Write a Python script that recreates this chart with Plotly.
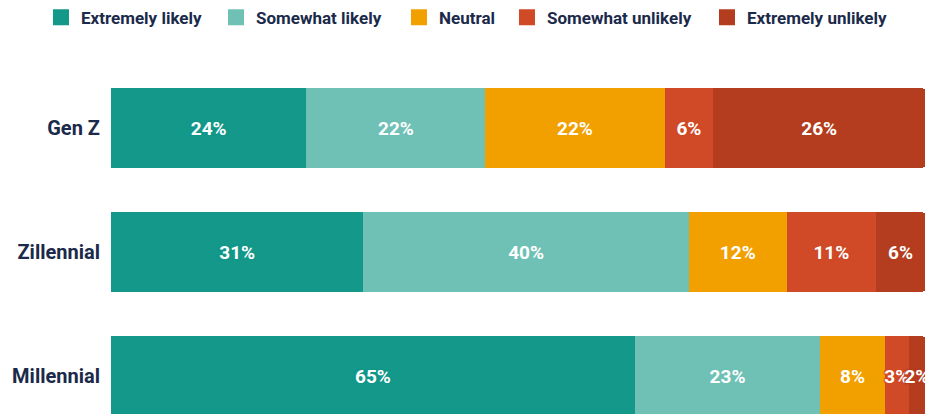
import plotly.graph_objects as go

# Survey responses by generation (percent of respondents)
generations = ["Gen Z", "Zillennial", "Millennial"]
responses = ["Extremely likely", "Somewhat likely", "Neutral",
             "Somewhat unlikely", "Extremely unlikely"]
extremely_likely = [24, 31, 65]
somewhat_likely = [22, 40, 23]
neutral = [22, 12, 8]
somewhat_unlikely = [6, 11, 3]
extremely_unlikely = [26, 6, 2]

series = [extremely_likely, somewhat_likely, neutral,
          somewhat_unlikely, extremely_unlikely]
colors = ["#13988a", "#6fc1b6", "#f2a000", "#d04a27", "#b53d1f"]
# fixed entry widths so the legend items are evenly laid out
legend_widths = [130, 138, 63, 155, 150]

NAVY = "#1b2a4a"
FONT = "Roboto"

fig = go.Figure()

for name, values, color in zip(responses, series, colors):
    fig.add_trace(go.Bar(
        y=generations,
        x=values,
        orientation="h",
        name=name,
        marker=dict(color=color, line=dict(width=0)),
        text=[f"{v}%" for v in values],
        textposition="inside",
        insidetextanchor="middle",
        textangle=0,
        textfont=dict(family=FONT, size=19, color="white", weight=700,
                      shadow=f"1px 1px 1px {color}, -1px -1px 1px {color}, "
                             f"1px -1px 1px {color}, -1px 1px 1px {color}"),
        hoverinfo="skip",
        showlegend=False,
    ))

# Legend entries drawn as larger square swatches
for name, color, lw in zip(responses, colors, legend_widths):
    fig.add_trace(go.Scatter(
        x=[None], y=[None],
        mode="markers",
        name=name,
        legendwidth=lw,
        marker=dict(symbol="square", size=16, color=color, line=dict(width=0)),
        showlegend=True,
    ))

fig.update_layout(
    width=942,
    height=470,
    margin=dict(l=111, r=17, t=66, b=32, autoexpand=False),
    paper_bgcolor="white",
    plot_bgcolor="white",
    barmode="stack",
    barnorm="percent",
    bargap=0.36,
    barcornerradius=3,
    uniformtext=dict(mode="show", minsize=19),
    font=dict(family=FONT, color=NAVY),
    legend=dict(
        orientation="h",
        xref="paper", x=-0.086, xanchor="left",
        yref="paper", y=1.178, yanchor="top",
        font=dict(family=FONT, size=17, color=NAVY, weight=700),
        itemclick=False,
        traceorder="normal",
    ),
    xaxis=dict(range=[0, 100], visible=False, fixedrange=True),
    yaxis=dict(
        categoryorder="array",
        categoryarray=generations,
        autorange="reversed",
        showgrid=False,
        zeroline=False,
        showline=False,
        ticks="",
        ticklabelstandoff=10,
        tickfont=dict(family=FONT, size=20, color=NAVY, weight=700),
        fixedrange=True,
    ),
)

fig.write_html("out.html")
